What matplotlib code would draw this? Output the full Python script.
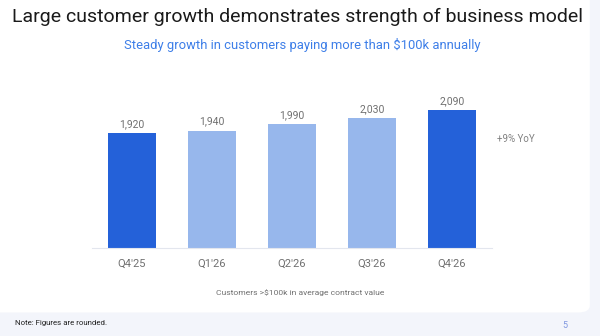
import matplotlib

matplotlib.use("Agg")
import matplotlib.pyplot as plt
from matplotlib.patches import FancyBboxPatch

# Chart data
quarters = ["Q4'25", "Q1'26", "Q2'26", "Q3'26", "Q4'26"]
customers = [1920, 1940, 1990, 2030, 2090]
highlight = [True, False, False, False, True]

dark_blue = "#2461d9"
light_blue = "#97b7ec"
gray_text = "#707070"

plt.rcParams["font.family"] = ["Roboto", "DejaVu Sans"]

fig = plt.figure(figsize=(6.0, 3.36), dpi=100)
fig.patch.set_facecolor("#f3f5fb")

# White card behind the chart
card = FancyBboxPatch(
    (-0.05, 0.07), 1.033, 1.1,
    boxstyle="round,pad=0,rounding_size=0.02",
    transform=fig.transFigure, facecolor="white", edgecolor="none", zorder=-10,
)
fig.patches.append(card)

ax = fig.add_axes([0.1533, 0.2619, 0.6667, 0.47])
ax.set_facecolor("none")
ax.set_zorder(5)

colors = [dark_blue if h else light_blue for h in highlight]
x = range(len(quarters))
bars = ax.bar(x, customers, width=0.61, color=colors, edgecolor="none")

for rect, val in zip(bars, customers):
    ax.annotate(
        f"{val:,}",
        (rect.get_x() + rect.get_width() / 2, rect.get_height()),
        textcoords="offset points",
        xytext=(0, 3),
        ha="center",
        va="bottom",
        fontsize=7.5,
        color=gray_text,
    )

ax.set_xlim(-0.5, 4.5)
ax.set_ylim(1072, 2240)
ax.set_xticks(list(x))
ax.set_xticklabels(quarters, fontsize=8, color=gray_text)
ax.tick_params(axis="x", length=0, pad=8)
ax.set_yticks([])
for side in ["top", "right", "left"]:
    ax.spines[side].set_visible(False)
ax.spines["bottom"].set_color("#e3e6ee")
ax.spines["bottom"].set_linewidth(0.8)

# Texts
fig.text(0.495, 0.95, "Large customer growth demonstrates strength of business model",
         ha="center", va="center", fontsize=14, color="#1a1a1a")
fig.text(0.503, 0.865, "Steady growth in customers paying more than $100k annually",
         ha="center", va="center", fontsize=9.4, color="#3d7ee8")
fig.text(0.828, 0.586, "+9% YoY", ha="left", va="center", fontsize=7, color="#808080")
fig.text(0.5, 0.128, "Customers >$100k in average contract value",
         ha="center", va="center", fontsize=6.1, color=gray_text)
fig.text(0.025, 0.04, "Note: Figures are rounded.", ha="left", va="center",
         fontsize=5.7, color="#222222")
fig.text(0.942, 0.032, "5", ha="center", va="center", fontsize=6.5, color="#7f96e0")

fig.savefig("out.png", dpi=100, facecolor=fig.get_facecolor())
